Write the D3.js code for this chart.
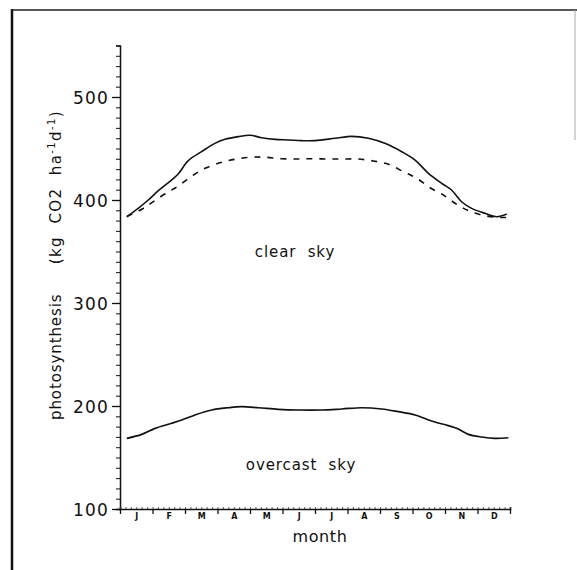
<!DOCTYPE html>
<html>
<head>
<meta charset="utf-8">
<script src="https://cdn.jsdelivr.net/npm/d3@7"></script>
<style>
  html, body { margin: 0; padding: 0; background: #fff; }
  svg { display: block; }
  text { font-family: "DejaVu Sans", sans-serif; fill: #111; }
</style>
</head>
<body>
<svg id="chart" width="577" height="570"></svg>
<script>
// ---- data ----
const monthLabels = ["J","F","M","A","M","J","J","A","S","O","N","D"];
const yMajorTicks = [100, 200, 300, 400, 500];

// clear sky, solid line (time in months since 1 Jan, photosynthesis)
const clearSolidT = [0.21,0.56,0.87,1.18,1.49,1.79,2.10,2.51,2.92,3.23,3.64,4.00,4.36,4.77,5.18,5.59,6.00,6.62,7.13,7.64,8.15,8.67,9.08,9.49,9.90,10.20,10.51,10.82,11.23,11.59,11.90];
const clearSolidV = [383.8,391.9,400.0,409.0,416.8,425.2,438.2,446.9,455.0,458.9,461.5,462.8,460.5,458.9,458.3,457.6,457.6,459.9,461.8,459.9,455.0,446.9,438.8,425.9,416.2,409.7,398.3,391.9,387.1,383.8,386.4];

// clear sky, dashed line
const clearDashT = [0.21,0.67,0.98,1.38,1.79,2.26,2.62,3.13,3.54,4.00,4.46,4.98,5.49,5.90,6.41,6.87,7.33,7.79,8.26,8.72,9.13,9.54,9.95,10.31,10.72,11.13,11.59,11.88];
const clearDashV = [383.8,391.0,397.4,405.8,413.6,424.3,430.8,436.6,439.5,441.5,441.5,440.1,439.8,440.1,439.8,439.8,439.8,437.9,434.7,427.5,421.1,411.9,404.9,396.8,389.6,385.4,383.2,383.0];

// overcast sky, solid line
const overcastT = [0.21,0.67,1.08,1.59,1.90,2.31,2.82,3.33,3.74,4.26,4.87,5.49,6.21,6.82,7.44,8.05,8.56,9.08,9.59,10.10,10.41,10.72,11.13,11.54,11.95];
const overcastV = [168.6,172.5,178.3,183.2,186.4,191.3,196.1,198.3,199.3,198.3,196.8,196.1,196.1,197.1,198.3,197.1,194.5,191.3,185.4,180.9,177.7,172.5,169.9,168.6,169.2];

// ---- drawing ----
const svg = d3.select("#chart");

const x = d3.scaleLinear().domain([0, 12]).range([120, 510]);
const y = d3.scaleLinear().domain([100, 550]).range([509, 45.5]);

// frame
svg.append("line").attr("x1", 12).attr("x2", 12).attr("y1", 9).attr("y2", 570)
  .attr("stroke", "#111").attr("stroke-width", 2.5);
svg.append("line").attr("x1", 11).attr("x2", 577).attr("y1", 10).attr("y2", 10)
  .attr("stroke", "#222").attr("stroke-width", 1.6);
svg.append("line").attr("x1", 575).attr("x2", 575).attr("y1", 10).attr("y2", 140)
  .attr("stroke", "#aaa").attr("stroke-width", 1);

// y axis: minor ticks
const yMinor = svg.append("g").attr("transform", `translate(${x(0)},0)`)
  .call(d3.axisLeft(y).tickValues(d3.range(100, 551, 10)).tickSize(4).tickFormat(""));
yMinor.selectAll("line").attr("stroke", "#222").attr("stroke-width", 1.1);
yMinor.select(".domain").attr("stroke", "#111").attr("stroke-width", 1.5);

// y axis: major ticks and labels
const yMajor = svg.append("g").attr("transform", `translate(${x(0)},0)`)
  .call(d3.axisLeft(y).tickValues(yMajorTicks).tickSize(8).tickPadding(3).tickFormat(d3.format("d")));
yMajor.select(".domain").remove();
yMajor.selectAll("line").attr("stroke", "#111").attr("stroke-width", 1.3);
yMajor.selectAll("text").style("font-size", "17px").style("letter-spacing", "1.2px")
  .attr("fill", "#111").attr("dy", "0.36em");

// x axis: minor ticks above
const xMinor = svg.append("g").attr("transform", `translate(0,${y(100)})`)
  .call(d3.axisTop(x).tickValues(d3.range(0, 12.001, 1 / 6)).tickSize(2).tickFormat(""));
xMinor.selectAll("line").attr("stroke", "#333").attr("stroke-width", 0.8);
xMinor.select(".domain").attr("stroke", "#111").attr("stroke-width", 1.6);

// x axis: month boundary ticks
const xMajor = svg.append("g").attr("transform", `translate(0,${y(100)})`)
  .call(d3.axisBottom(x).tickValues(d3.range(0, 13)).tickSize(5).tickFormat(""));
xMajor.select(".domain").remove();
xMajor.selectAll("line").attr("stroke", "#111").attr("stroke-width", 1.3);

// x axis: month labels at mid-month
const xLab = svg.append("g").attr("transform", `translate(0,${y(100)})`)
  .call(d3.axisBottom(x).tickValues(d3.range(0.5, 12, 1)).tickSize(0).tickPadding(4)
    .tickFormat((d, i) => monthLabels[i]));
xLab.select(".domain").remove();
xLab.selectAll("text").style("font-size", "8px").style("font-weight", "bold").attr("fill", "#111");

// lines
const line = d3.line()
  .x(d => x(d[0]))
  .y(d => y(d[1]))
  .curve(d3.curveCatmullRom.alpha(0.5));

svg.append("path").datum(d3.zip(clearSolidT, clearSolidV)).attr("d", line)
  .attr("fill", "none").attr("stroke", "#111").attr("stroke-width", 1.6);
svg.append("path").datum(d3.zip(clearDashT, clearDashV)).attr("d", line)
  .attr("fill", "none").attr("stroke", "#111").attr("stroke-width", 1.6)
  .attr("stroke-dasharray", "6,7");
svg.append("path").datum(d3.zip(overcastT, overcastV)).attr("d", line)
  .attr("fill", "none").attr("stroke", "#111").attr("stroke-width", 1.7);

// annotations
svg.append("text").attr("x", 295).attr("y", 257).attr("text-anchor", "middle")
  .style("font-size", "15px").style("letter-spacing", "0.9px").text("clear\u00a0\u00a0sky");
svg.append("text").attr("x", 301).attr("y", 470).attr("text-anchor", "middle")
  .style("font-size", "15px").style("letter-spacing", "0.9px").text("overcast\u00a0\u00a0sky");
svg.append("text").attr("x", 320).attr("y", 542).attr("text-anchor", "middle")
  .style("font-size", "16px").style("letter-spacing", "0.6px").text("month");

// y axis title (rotated)
const yt = svg.append("g").attr("transform", "translate(61,0) rotate(-90)");
yt.append("text").attr("x", -420).attr("y", 0).attr("text-anchor", "start")
  .style("font-size", "15px").style("letter-spacing", "0.9px").text("photosynthesis");
const t2 = yt.append("text").attr("x", -110).attr("y", 0).attr("text-anchor", "end")
  .style("font-size", "15px").style("letter-spacing", "1.4px");
t2.append("tspan").text("(kg\u00a0\u00a0CO2\u00a0\u00a0ha");
t2.append("tspan").attr("dy", -6).style("font-size", "10px").text("-1");
t2.append("tspan").attr("dy", 6).text("d");
t2.append("tspan").attr("dy", -6).style("font-size", "10px").text("-1");
t2.append("tspan").attr("dy", 6).text(")");
</script>
</body>
</html>
